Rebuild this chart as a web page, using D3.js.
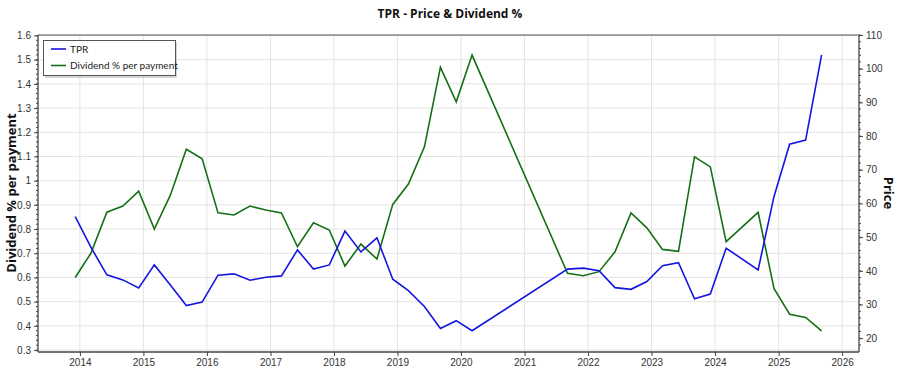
<!DOCTYPE html>
<html><head><meta charset="utf-8">
<script src="https://cdn.jsdelivr.net/npm/d3@7"></script>
<style>
body{margin:0;background:#fff;}
svg{font-family:"Open Sans","Noto Sans",sans-serif;}
</style></head>
<body><svg id="c" width="900" height="375"></svg>
<script>
const dates = ["2013-12-05","2014-03-05","2014-06-05","2014-09-05","2014-12-05","2015-03-05","2015-06-05","2015-09-05","2015-12-05","2016-03-05","2016-06-05","2016-09-05","2016-12-05","2017-03-05","2017-06-05","2017-09-05","2017-12-05","2018-03-05","2018-06-05","2018-09-05","2018-12-05","2019-03-05","2019-06-05","2019-09-05","2019-12-05","2020-03-05","2021-09-05","2021-12-05","2022-03-05","2022-06-05","2022-09-05","2022-12-05","2023-03-05","2023-06-05","2023-09-05","2023-12-05","2024-03-05","2024-09-05","2024-12-05","2025-03-05","2025-06-05","2025-09-05"];
const dividendPct = [0.60,0.70,0.87,0.895,0.957,0.80,0.94,1.13,1.09,0.867,0.858,0.895,0.879,0.867,0.727,0.826,0.796,0.647,0.738,0.676,0.902,0.986,1.14,1.468,1.326,1.519,0.617,0.607,0.624,0.706,0.867,0.805,0.716,0.708,1.099,1.057,0.748,0.869,0.555,0.448,0.435,0.379];
const price = [56.1,47.0,38.8,37.3,34.9,41.75,35.8,29.7,30.7,38.7,39.1,37.2,38.1,38.5,46.2,40.5,41.75,51.8,45.6,49.8,37.5,34.1,29.4,22.85,25.2,22.2,40.5,40.8,40.0,35.0,34.5,36.8,41.5,42.4,31.7,33.1,46.7,40.3,62.0,77.6,78.8,104.1];
const yearTicks = [2014,2015,2016,2017,2018,2019,2020,2021,2022,2023,2024,2025,2026];
const leftTicks = [0.3,0.4,0.5,0.6,0.7,0.8,0.9,1,1.1,1.2,1.3,1.4,1.5,1.6];
const rightTicks = [20,30,40,50,60,70,80,90,100,110];

const svg = d3.select("#c");
const L=38,R=859,T=35,B=352;
const parse = d3.timeParse("%Y-%m-%d");
const pts = dates.map((d,i)=>({t:parse(d),div:dividendPct[i],p:price[i]}));
const x = d3.scaleTime().domain([new Date(2013,4,5), new Date(2026,3,8)]).range([L,R]);
const yL = d3.scaleLinear().domain([0.292,1.602]).range([B,T]);
const yR = d3.scaleLinear().domain([15.9,110]).range([B,T]);

// grid
const g = svg.append("g");
yearTicks.forEach(y=>{
  const xv = x(new Date(y,0,1));
  g.append("line").attr("x1",xv).attr("x2",xv).attr("y1",T).attr("y2",B).attr("stroke","#e3e3e3");
});
leftTicks.forEach(v=>{
  g.append("line").attr("x1",L).attr("x2",R).attr("y1",yL(v)).attr("y2",yL(v)).attr("stroke","#e3e3e3");
});
// top border
svg.append("line").attr("x1",L).attr("x2",R).attr("y1",T).attr("y2",T).attr("stroke","#555");

// axes
const axL = d3.axisLeft(yL).tickValues(leftTicks).tickSize(4).tickFormat(d=>d3.format("")(+d.toFixed(1)));
const axR = d3.axisRight(yR).tickValues(rightTicks).tickSize(4);
const axB = d3.axisBottom(x).tickValues(yearTicks.map(y=>new Date(y,0,1))).tickSize(4).tickFormat(d3.timeFormat("%Y"));
function style(sel){
  sel.select(".domain").attr("stroke","#444").attr("stroke-width",1.3);
  sel.selectAll(".tick line").attr("stroke","#444");
  sel.selectAll("text").attr("fill","#333").style("font-size","10px");
}
const gl = svg.append("g").attr("transform",`translate(${L},0)`).call(axL).call(style);
gl.select(".domain").attr("d",`M-0,${B}V${T}`);
const gr = svg.append("g").attr("transform",`translate(${R},0)`).call(axR).call(style);
gr.select(".domain").attr("d",`M0,${B}V${T}`);
const gb = svg.append("g").attr("transform",`translate(0,${B})`).call(axB).call(style);
gb.select(".domain").attr("d",`M${L},0H${R}`);
// minor ticks
d3.range(0.3,1.601,0.02).forEach(v=>svg.append("line").attr("x1",L-2).attr("x2",L).attr("y1",yL(v)).attr("y2",yL(v)).attr("stroke","#444"));
d3.range(18,110.1,2).forEach(v=>svg.append("line").attr("x1",R).attr("x2",R+2).attr("y1",yR(v)).attr("y2",yR(v)).attr("stroke","#444"));

// lines
const lineDiv = d3.line().x(d=>x(d.t)).y(d=>yL(d.div));
const linePrice = d3.line().x(d=>x(d.t)).y(d=>yR(d.p));
svg.append("path").datum(pts).attr("d",lineDiv).attr("fill","none").attr("stroke","#157015").attr("stroke-width",1.6);
svg.append("path").datum(pts).attr("d",linePrice).attr("fill","none").attr("stroke","#1515e0").attr("stroke-width",1.6);

// title & labels
svg.append("text").attr("x",450).attr("y",18).attr("text-anchor","middle").style("font-size","12px").style("font-weight","bold").attr("fill","#111").text("TPR - Price & Dividend %");
svg.append("text").attr("transform","translate(16,193) rotate(-90)").attr("text-anchor","middle").style("font-size","13px").style("font-weight","bold").attr("fill","#111").text("Dividend % per payment");
svg.append("text").attr("transform","translate(884,193) rotate(90)").attr("text-anchor","middle").style("font-size","13px").style("font-weight","bold").attr("fill","#111").text("Price");

// legend
const lg = svg.append("g");
lg.append("rect").attr("x",45).attr("y",42).attr("width",132).attr("height",36).attr("fill","#aaa").attr("opacity",0.5);
lg.append("rect").attr("x",43.5).attr("y",40.5).attr("width",132).attr("height",35).attr("fill","#fff").attr("stroke","#555");
[["TPR","#1515e0"],["Dividend % per payment","#157015"]].forEach((e,i)=>{
  const yy = 49+i*16.5;
  lg.append("line").attr("x1",51).attr("x2",66).attr("y1",yy).attr("y2",yy).attr("stroke",e[1]).attr("stroke-width",1.6);
  lg.append("text").attr("x",70).attr("y",yy+3.5).style("font-family","Lato, 'Open Sans', sans-serif").style("font-size","10px").attr("fill","#222").text(e[0]);
});
</script></body></html>
